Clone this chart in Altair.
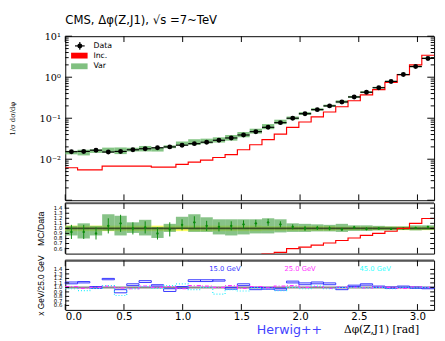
import math
import altair as alt
import pandas as pd

PI = math.pi
NB = 30
edges = [i * PI / NB for i in range(NB + 1)]

# main panel: normalised distribution
data_vals = [0.0153, 0.0155, 0.0166, 0.0150, 0.0155, 0.0170, 0.0180, 0.0190, 0.0200, 0.0220,
             0.0240, 0.0260, 0.0290, 0.0330, 0.0390, 0.0470, 0.0600, 0.0780, 0.100, 0.129,
             0.162, 0.200, 0.250, 0.330, 0.430, 0.555, 0.790, 1.160, 1.820, 2.870]
data_err = [0.05] * 12 + [0.04] * 8 + [0.03] * 10
inc_vals = [0.0062, 0.0055, 0.0055, 0.0068, 0.0068, 0.0068, 0.0068, 0.0064, 0.0064, 0.0075,
            0.0085, 0.0095, 0.0110, 0.0130, 0.0170, 0.0225, 0.0300, 0.0410, 0.0600, 0.0810,
            0.1080, 0.1420, 0.1900, 0.2670, 0.3700, 0.5000, 0.7450, 1.1600, 2.0000, 3.4300]
# ratio panel: Var band / data, MC points, data band
var_lo = [0.86, 0.80, 0.86, 0.95, 0.86, 0.91, 0.86, 0.81, 0.93, 0.99, 0.93, 0.93, 0.88, 0.86, 0.88,
          0.90, 0.90, 0.92, 0.93, 0.93, 0.94, 0.94, 0.93, 0.95, 0.95, 0.96, 0.96, 0.97, 0.96, 0.97]
var_hi = [1.05, 1.10, 1.05, 1.28, 1.25, 1.12, 1.17, 1.03, 1.09, 1.23, 1.28, 1.22, 1.18, 1.18, 1.18,
          1.18, 1.20, 1.18, 1.10, 1.09, 1.08, 1.07, 1.09, 1.06, 1.06, 1.05, 1.04, 1.04, 1.06, 1.06]
mc_ratio = [0.93, 0.93, 0.90, 1.05, 1.10, 1.00, 1.02, 0.90, 0.98, 1.07, 1.12, 1.05, 1.03, 1.05, 1.08,
            1.10, 1.12, 1.08, 1.03, 1.00, 1.01, 1.00, 0.98, 1.02, 0.99, 1.00, 0.99, 1.00, 1.01, 1.03]
mc_err = [0.14, 0.14, 0.12, 0.15, 0.17, 0.12, 0.12, 0.12, 0.14, 0.11, 0.12, 0.10, 0.09, 0.09, 0.08,
          0.07, 0.07, 0.06, 0.05, 0.05, 0.04, 0.04, 0.03, 0.03, 0.03, 0.02, 0.02, 0.02, 0.02, 0.02]
data_band = [0.055] * 16 + [0.045] * 6 + [0.035] * 8
# bottom panel: cut variations
blue_hi = [1.12, 1.13, 1.02, 1.20, 0.95, 1.08, 1.15, 1.06, 0.97, 1.02, 1.17, 1.17, 1.17, 1.00, 1.08,
           1.00, 1.00, 0.98, 1.14, 1.10, 1.12, 1.10, 1.00, 1.05, 1.08, 1.03, 1.01, 1.03, 1.01, 1.00]
blue_lo = [1.08, 1.10, 0.98, 1.17, 0.88, 1.04, 1.11, 1.03, 0.91, 0.98, 1.13, 1.13, 1.14, 0.96, 1.04,
           0.95, 0.96, 0.94, 1.10, 1.06, 1.08, 1.06, 0.95, 1.02, 1.05, 1.00, 0.98, 1.00, 0.98, 0.97]
magenta = [1.02, 0.98, 1.00, 1.03, 0.99, 0.97, 1.03, 1.00, 1.02, 0.97, 1.04, 1.03, 1.00, 1.04, 0.98,
           1.02, 0.99, 1.03, 1.04, 1.00, 1.02, 0.98, 1.01, 1.00, 0.99, 1.01, 1.00, 0.98, 1.01, 1.00]
cyan = [0.97, 0.93, 0.98, 1.04, 0.82, 0.97, 1.02, 0.98, 1.04, 1.08, 0.95, 1.00, 0.85, 0.95, 0.92,
        0.99, 0.97, 0.93, 1.00, 0.97, 1.03, 0.97, 1.00, 1.00, 0.99, 1.00, 0.97, 1.00, 0.99, 1.00]
gev_labels = ["15.0 GeV", "25.0 GeV", "45.0 GeV"]
gev_x = [1.36, 2.0, 2.64]
gev_y = [1.40, 1.40, 1.40]
gev_colors = ["#3333ff", "#ff33ff", "#33ffff"]

x_ticks = [0.0, 0.5, 1.0, 1.5, 2.0, 2.5, 3.0]
log_major = [0.001, 0.01, 0.1, 1.0, 10.0]
ratio_ticks = [0.6, 0.7, 0.8, 0.9, 1.0, 1.1, 1.2, 1.3, 1.4]

W = 380
H1, H2, H3 = 169, 52, 51
XS = alt.Scale(domain=[0, PI], nice=False, zero=False)

bins = pd.DataFrame({
    "lo": edges[:-1], "hi": edges[1:],
    "c": [(edges[i] + edges[i + 1]) / 2 for i in range(NB)],
    "d": data_vals, "de": data_err, "inc": inc_vals,
    "vlo": var_lo, "vhi": var_hi, "mc": mc_ratio, "mce": mc_err, "db": data_band,
    "blo": blue_lo, "bhi": blue_hi,
})
bins["d_lo"] = bins.d * (1 - bins.de)
bins["d_hi"] = bins.d * (1 + bins.de)
bins["g_lo"] = bins.d * bins.vlo
bins["g_hi"] = bins.d * bins.vhi
bins["y_lo"] = 1 - bins.db
bins["y_hi"] = 1 + bins.db
bins["mc_lo"] = bins.mc - bins.mce
bins["mc_hi"] = bins.mc + bins.mce


def steps(vals):
    return pd.DataFrame({"x": edges, "y": list(vals) + [vals[-1]]})


inc_step = steps(inc_vals)
ratio_step = steps([a / b for a, b in zip(inc_vals, data_vals)])
mag_step = steps(magenta)
cyan_step = steps(cyan)
one_df = pd.DataFrame({"v": [1.0]})
rt_df = pd.DataFrame({"t": ratio_ticks, "s": [f"{v:.1f}" for v in ratio_ticks]})


def ticks_layers(yvals, yscale, h):
    out = []
    tx = pd.DataFrame({"t": x_ticks})
    for y0, y1 in ((0, 6), (h, h - 6)):
        out.append(alt.Chart(tx).mark_rule(color="black", strokeWidth=1).encode(
            x=alt.X("t:Q", scale=XS), y=alt.value(y0), y2=alt.value(y1)))
    for vals, ln in yvals:
        ty = pd.DataFrame({"t": vals})
        for x0, x1 in ((0, ln), (W, W - ln)):
            out.append(alt.Chart(ty).mark_rule(color="black", strokeWidth=1).encode(
                y=alt.Y("t:Q", scale=yscale), x=alt.value(x0), x2=alt.value(x1)))
    return out


def tick_labels(yscale):
    return alt.Chart(rt_df).mark_text(align="right", baseline="middle", fontSize=5.5,
                                      font="DejaVu Sans", color="black").encode(
        y=alt.Y("t:Q", scale=yscale), x=alt.value(-3), text="s:N")


def separator():
    return alt.Chart(one_df).mark_rule(color="#555555", strokeWidth=2).encode(
        x=alt.value(0), x2=alt.value(W), y=alt.value(0))


# ---------------- main panel ----------------
YS1 = alt.Scale(type="log", domain=[0.001, 10], nice=False)
yax1 = alt.Axis(values=[0.01, 0.1, 1, 10], ticks=False, domain=False, grid=False,
                labelExpr="datum.value >= 5 ? '10¹' : datum.value >= 0.5 ? '10⁰' : datum.value >= 0.05 ? '10⁻¹' : '10⁻²'",
                labelFont="DejaVu Serif", labelFontSize=10, labelPadding=5,
                title="1/σ dσ/dφ", titleFont="DejaVu Serif", titleFontSize=7,
                titleFontWeight="normal", titleX=-51)
base1 = alt.Chart(bins)
green1 = base1.mark_rect(color="#70bb70", opacity=0.85).encode(
    x=alt.X("lo:Q", scale=XS, axis=None), x2="hi:Q",
    y=alt.Y("g_lo:Q", scale=YS1, axis=yax1), y2="g_hi:Q")
red1 = alt.Chart(inc_step).mark_line(color="#ff0000", strokeWidth=1.2, interpolate="step-after").encode(
    x=alt.X("x:Q", scale=XS), y=alt.Y("y:Q", scale=YS1))
xerr1 = base1.mark_rule(color="black", strokeWidth=1.2).encode(
    x=alt.X("lo:Q", scale=XS), x2="hi:Q", y=alt.Y("d:Q", scale=YS1))
yerr1 = base1.mark_rule(color="black", strokeWidth=1.2).encode(
    x=alt.X("c:Q", scale=XS), y=alt.Y("d_lo:Q", scale=YS1), y2="d_hi:Q")
pts1 = base1.mark_point(filled=True, color="black", size=26, opacity=1).encode(
    x=alt.X("c:Q", scale=XS), y=alt.Y("d:Q", scale=YS1))

leg_txt = pd.DataFrame({"t": ["Data", "Inc.", "Var"], "py": [10, 20, 31]})
leg_text = alt.Chart(leg_txt).mark_text(align="left", baseline="middle", fontSize=8,
                                       font="DejaVu Sans").encode(
    text="t:N", x=alt.value(29), y=alt.Y("py:Q", scale=None))
leg_dot = alt.Chart(leg_txt.head(1)).mark_point(filled=True, color="black", size=26, opacity=1).encode(
    x=alt.value(15), y=alt.value(10))
leg_h = alt.Chart(leg_txt.head(1)).mark_rule(color="black", strokeWidth=1.2).encode(
    x=alt.value(10), x2=alt.value(20), y=alt.value(10))
leg_v = alt.Chart(leg_txt.head(1)).mark_rule(color="black", strokeWidth=1.2).encode(
    x=alt.value(15), y=alt.value(6), y2=alt.value(14))
leg_red = alt.Chart(leg_txt.head(1)).mark_rect(color="#ff0000").encode(
    x=alt.value(6), x2=alt.value(23), y=alt.value(17), y2=alt.value(23))
leg_green = alt.Chart(leg_txt.head(1)).mark_rect(color="#80c080").encode(
    x=alt.value(6), x2=alt.value(23), y=alt.value(28), y2=alt.value(34))

minor = [k * 10.0 ** e for e in range(-3, 1) for k in range(2, 10)]
tl = ticks_layers([(log_major, 7), (minor, 3.5)], YS1, H1)
main = alt.layer(
    green1, red1, xerr1, yerr1, pts1, leg_text, leg_dot, leg_h, leg_v, leg_red, leg_green, *tl
).properties(width=W, height=H1,
             title=alt.TitleParams("CMS, Δφ(Z,J1), √s =7~TeV", anchor="start", frame="group",
                                   fontSize=12, font="DejaVu Sans", fontWeight="normal",
                                   offset=5))

# ---------------- ratio panel ----------------
YS2 = alt.Scale(domain=[0.5, 1.5], nice=False, zero=False)
yax2 = alt.Axis(values=ratio_ticks, labels=False, ticks=False, domain=False, grid=False,
                title="MC/Data", titleFontSize=9, titleFontWeight="normal", titleX=-20)
base2 = alt.Chart(bins)
yel = base2.mark_rect(color="#ffff66").encode(
    x=alt.X("lo:Q", scale=XS, axis=None), x2="hi:Q",
    y=alt.Y("y_lo:Q", scale=YS2, axis=yax2), y2="y_hi:Q")
green2 = base2.mark_rect(color="#55aa55", opacity=0.7).encode(
    x=alt.X("lo:Q", scale=XS), x2="hi:Q", y=alt.Y("vlo:Q", scale=YS2), y2="vhi:Q")
one2 = alt.Chart(one_df).mark_rule(color="black", strokeWidth=2, opacity=0.6).encode(
    y=alt.Y("v:Q", scale=YS2))
mcerr = base2.mark_rule(color="#0a8a0a", strokeWidth=1).encode(
    x=alt.X("c:Q", scale=XS), y=alt.Y("mc_lo:Q", scale=YS2), y2="mc_hi:Q")
mcpt = base2.mark_point(filled=True, color="#0a8a0a", size=6, opacity=1).encode(
    x=alt.X("c:Q", scale=XS), y=alt.Y("mc:Q", scale=YS2))
red2 = alt.Chart(ratio_step).mark_line(color="#ff0000", strokeWidth=1.2, interpolate="step-after",
                                       clip=True).encode(
    x=alt.X("x:Q", scale=XS), y=alt.Y("y:Q", scale=YS2))
ratio = alt.layer(yel, green2, one2, mcerr, mcpt, red2, separator(), tick_labels(YS2),
                  *ticks_layers([(ratio_ticks, 4)], YS2, H2)).properties(width=W, height=H2)

# ---------------- bottom panel ----------------
YS3 = alt.Scale(domain=[0.5, 1.6], nice=False, zero=False)
yax3 = alt.Axis(values=ratio_ticks, labels=False, ticks=False, domain=False, grid=False,
                title="x GeV/25.0 GeV", titleFontSize=8.5, titleFontWeight="normal", titleX=-20)
xax3 = alt.Axis(values=x_ticks, format=".1f", ticks=False, domain=False, grid=False,
                labelOverlap=False, labelFontSize=10.5, labelPadding=2, labelFont="DejaVu Sans",
                title="Δφ(Z,J1) [rad]", titleFont="DejaVu Serif", titleFontSize=11,
                titleFontWeight="normal", titleX=364, titleY=20.5, titleAlign="right",
                titleBaseline="middle")
base3 = alt.Chart(bins)
one3 = alt.Chart(one_df).mark_rule(color="#888888", strokeWidth=2).encode(
    y=alt.Y("v:Q", scale=YS3, axis=yax3))
blue3 = base3.mark_rect(fillOpacity=0, stroke="#3333ff", strokeWidth=1).encode(
    x=alt.X("lo:Q", scale=XS, axis=xax3), x2="hi:Q",
    y=alt.Y("blo:Q", scale=YS3), y2="bhi:Q")
mag3 = alt.Chart(mag_step).mark_line(color="#ff33ff", strokeWidth=1.2, strokeDash=[4, 2, 1, 2],
                                     interpolate="step-after").encode(
    x=alt.X("x:Q", scale=XS), y=alt.Y("y:Q", scale=YS3))
cy3 = alt.Chart(cyan_step).mark_line(color="#22eeff", strokeWidth=1.2, strokeDash=[1, 2],
                                     interpolate="step-after").encode(
    x=alt.X("x:Q", scale=XS), y=alt.Y("y:Q", scale=YS3))
gev = alt.Chart(pd.DataFrame({"t": gev_labels, "x": gev_x, "y": gev_y, "c": gev_colors})).mark_text(
    fontSize=7, font="DejaVu Sans", baseline="middle").encode(
    x=alt.X("x:Q", scale=XS), y=alt.Y("y:Q", scale=YS3), text="t:N",
    color=alt.Color("c:N", scale=None))
herwig = alt.Chart(pd.DataFrame({"t": ["Herwig++"]})).mark_text(
    fontSize=13, font="DejaVu Sans", color="#4444ff", baseline="middle").encode(
    text="t:N", x=alt.value(231), y=alt.value(H3 + 20.5))
bottom = alt.layer(one3, blue3, mag3, cy3, gev, herwig, separator(), tick_labels(YS3),
                   *ticks_layers([(ratio_ticks, 4)], YS3, H3)).properties(width=W, height=H3)

chart = alt.vconcat(main, ratio, bottom, spacing=0).properties(
    padding={"left": 0, "top": 0, "right": 0, "bottom": 0}
).configure_view(stroke="black", strokeWidth=1).configure_axis(
    labelColor="black", titleColor="black")

chart.save("out.html", embed_options={"renderer": "svg", "actions": False})
